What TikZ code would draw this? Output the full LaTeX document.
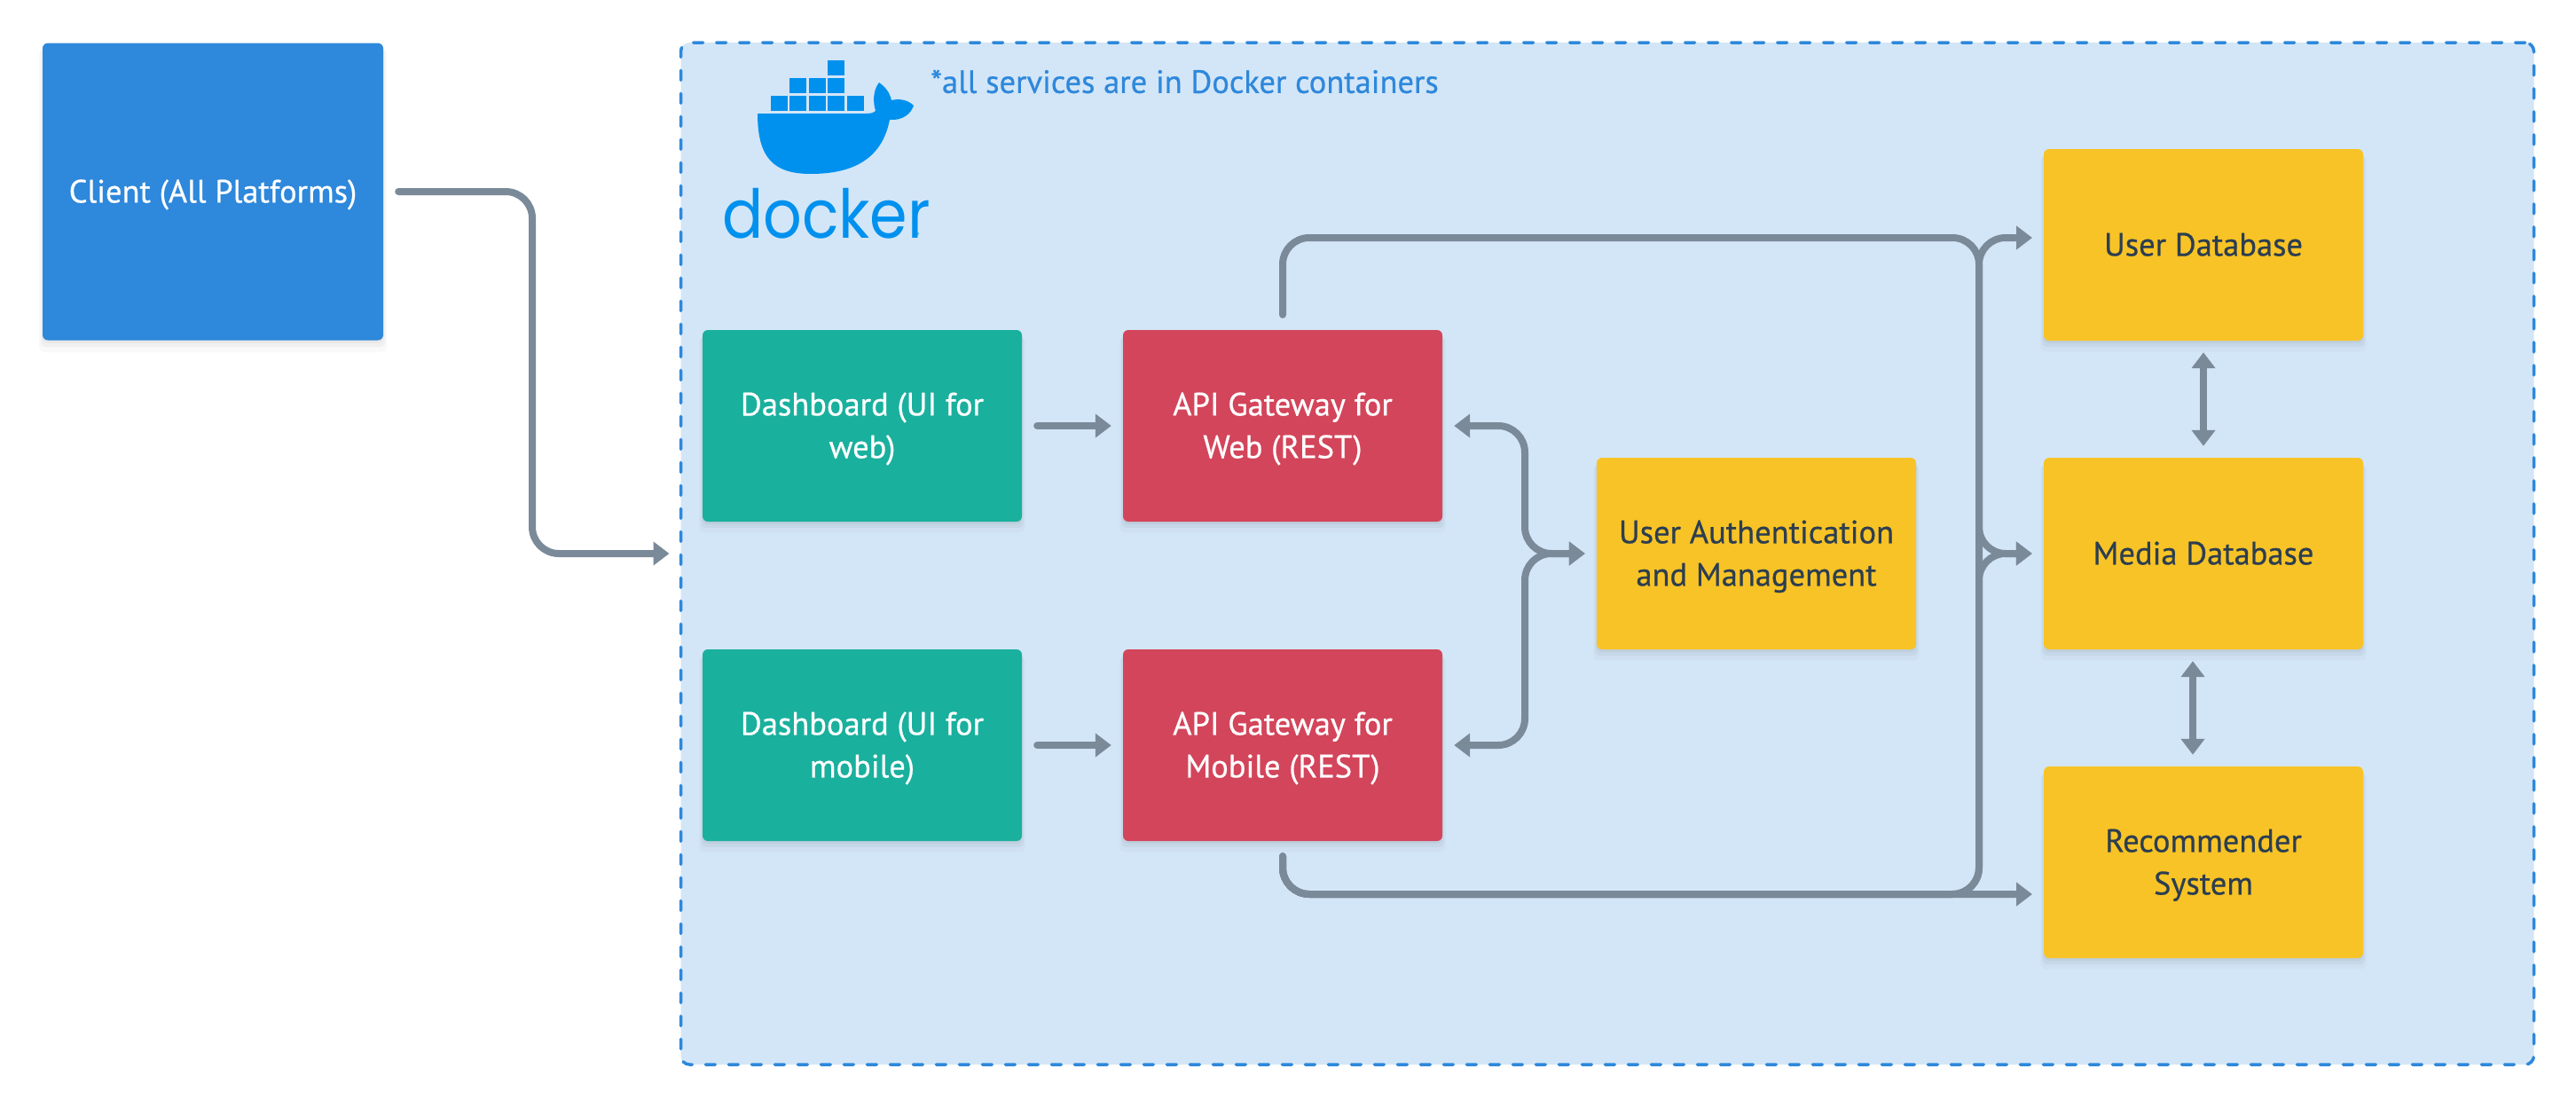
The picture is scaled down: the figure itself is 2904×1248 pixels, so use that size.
\documentclass[tikz,border=0pt]{standalone}
\usepackage{fontspec}
\setmainfont{PT Sans}[FakeBold=0.6]
\newfontfamily\logofont{Poppins}[FakeStretch=0.9]
\usetikzlibrary{positioning, shapes.geometric}
\usetikzlibrary{arrows, arrows.meta}
\usetikzlibrary{shadows}
\definecolor{clientblue}{HTML}{2E88DB}
\definecolor{dockerbg}{HTML}{D3E6F7}
\definecolor{dashteal}{HTML}{1AB09E}
\definecolor{apired}{HTML}{D3455B}
\definecolor{dbyellow}{HTML}{F8C326}
\definecolor{inkdark}{HTML}{2C3E50}
\definecolor{flowgray}{HTML}{7B8A99}
\definecolor{whaleblue}{HTML}{0091EE}
\newcommand{\boxtext}[1]{\raisebox{-9pt}[0pt][0pt]{\begin{tabular}{@{}c@{}}#1\end{tabular}}}
\tikzset{
  softshade/.style={
    general shadow={shadow yshift=-10pt, shadow scale=1.02, fill=black, opacity=.025},
    general shadow={shadow yshift=-6pt, shadow scale=1.01, fill=black, opacity=.035},
    general shadow={shadow yshift=-3pt, fill=black, opacity=.04}},
  panel/.style={rectangle, rounded corners=6pt, inner sep=0pt, minimum width=360pt,
    minimum height=216pt, text=white,
    font=\fontsize{36.5}{48}\selectfont, softshade},
  dashbox/.style={panel, fill=dashteal},
  apibox/.style={panel, fill=apired},
  servicebox/.style={panel, fill=dbyellow, text=inkdark},
  tipend/.tip={Triangle[length=18pt,width=26pt]},
  conn/.style={draw=flowgray, line width=8pt, rounded corners=30pt, line cap=round,
    shorten <=17pt, shorten >=13pt, -{tipend}},
  twoway/.style={conn, shorten <=13pt, {tipend}-{tipend}},
}

\begin{document}
\begin{tikzpicture}[x=1pt,y=-1pt]
  \useasboundingbox (0,0) rectangle (2904,1248);

  \node[rectangle, rounded corners=10pt, fill=dockerbg, draw=clientblue, line width=3.5pt,
    line cap=round, dash pattern=on 11pt off 15pt, inner sep=0pt, outer sep=0pt,
    minimum width=2089pt, minimum height=1152pt] (dockerarea) at (1812,624) {};

  \node[panel, fill=clientblue, minimum width=384pt, minimum height=335pt] (client) at (240,216)
    {\boxtext{Client (All Platforms)}};

  \node[dashbox] (dashweb) at (972,480) {\boxtext{Dashboard (UI for\\web)}};
  \node[dashbox] (dashmob) at (972,840) {\boxtext{Dashboard (UI for\\mobile)}};
  \node[apibox] (apiweb) at (1446,480) {\boxtext{API Gateway for\\Web (REST)}};
  \node[apibox] (apimob) at (1446,840) {\boxtext{API Gateway for\\Mobile (REST)}};
  \node[servicebox] (auth) at (1980,624) {\boxtext{User Authentication\\and Management}};
  \node[servicebox] (userdb) at (2484,276) {\boxtext{User Database}};
  \node[servicebox] (mediadb) at (2484,624) {\boxtext{Media Database}};
  \node[servicebox] (recsys) at (2484,972) {\boxtext{Recommender\\System}};

  \node[anchor=west, inner sep=0pt, text=clientblue, font=\fontsize{36.5}{40}\selectfont]
    (note) at (1049,92) {*all services are in Docker containers};

  % whale
  \foreach \col/\row in {3/0,1/1,2/1,3/1,0/2,1/2,2/2,3/2,4/2} {
    \fill[whaleblue] (868.6+21.5*\col,68+20*\row) rectangle ++(19,16.7);
  }
  \fill[whaleblue] (854,128) -- (976,128) .. controls (982,128) and (985,127) .. (987,125)
    .. controls (984,115) and (984,102) .. (991,93)
    .. controls (998,98) and (1003,104) .. (1005,113)
    .. controls (1013,111) and (1023,112) .. (1030,119)
    .. controls (1027,128) and (1018,136) .. (1003,135)
    .. controls (996,170) and (973,196) .. (914,196)
    .. controls (872,196) and (854,178) .. (854,128) -- cycle;
  \node[anchor=base west, inner sep=0pt, text=whaleblue, font=\logofont\fontsize{76}{76}\selectfont]
    (dockerword) at (814,268) {docker};
  \node[inner sep=0pt, text=whaleblue, font=\logofont\fontsize{7}{7}\selectfont]
    (dockermark) at (1035,265) {®};

  \coordinate (trunktop) at (2231,268);
  \coordinate (trunkbot) at (2231,1008);
  \coordinate (userin) at (2304,268);
  \coordinate (recin) at (2304,1008);

  \draw[conn] (client.east) -- (600,216) -- (600,624) -- (dockerarea.west);
  \draw[conn] (dashweb) -- (apiweb);
  \draw[conn] (dashmob) -- (apimob);
  \draw[twoway] (apiweb.east) -- (1719,480) -- (1719,624) -- (auth.west);
  \draw[twoway] (apimob.east) -- (1719,840) -- (1719,624) -- (auth.west);
  \draw[conn] (apiweb.north) -- (apiweb.north |- trunktop) -- (trunktop) -- (trunktop |- mediadb.west) -- (mediadb.west);
  \draw[conn] (apimob.south) -- (apimob.south |- trunkbot) -- (recin);
  \draw[conn] (apimob.south) -- (apimob.south |- trunkbot) -- (trunkbot) -- (trunktop) -- (userin);
  \draw[conn] (apimob.south) -- (apimob.south |- trunkbot) -- (trunkbot) -- (trunkbot |- mediadb.west) -- (mediadb.west);
  \draw[twoway] (userdb) -- (mediadb);
  \draw[twoway] ([xshift=-12pt]mediadb.south) -- ([xshift=-12pt]recsys.north);
\end{tikzpicture}
\end{document}
